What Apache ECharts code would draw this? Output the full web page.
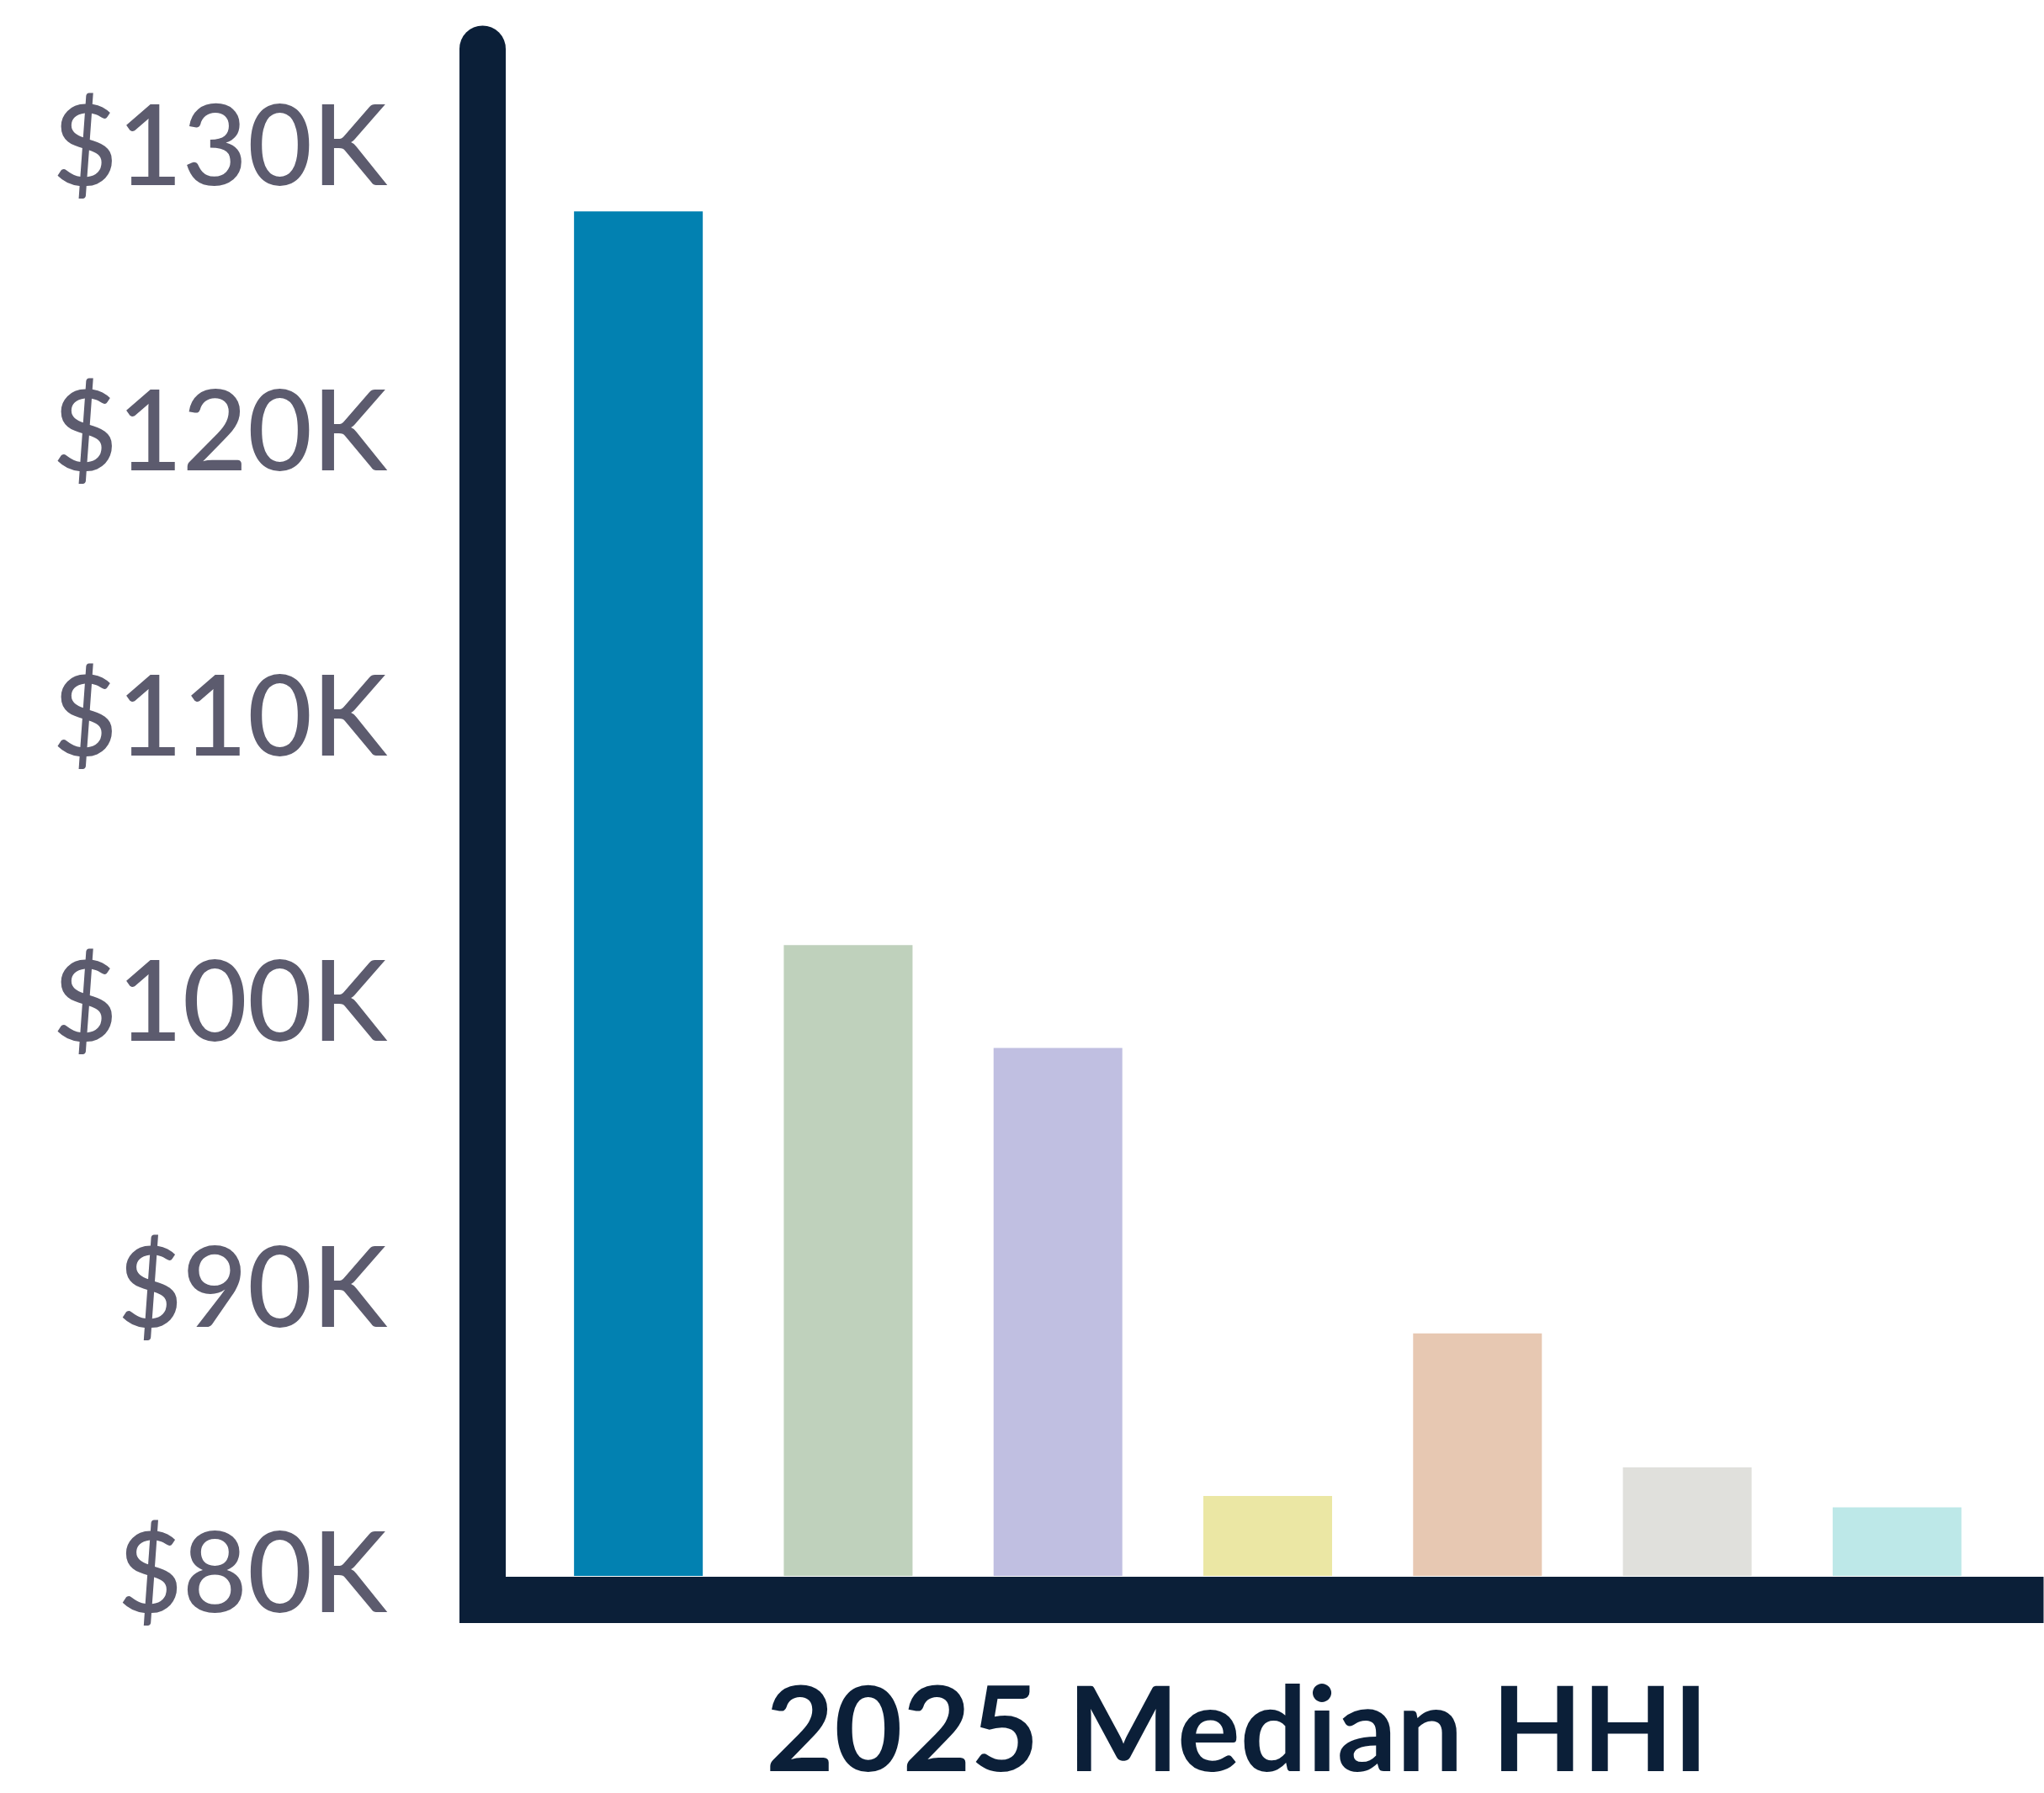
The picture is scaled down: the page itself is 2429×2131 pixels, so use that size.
<!DOCTYPE html>
<html>
<head>
<meta charset="utf-8">
<script src="https://cdn.jsdelivr.net/npm/echarts@6/dist/echarts.min.js"></script>
<style>
  html, body { margin: 0; padding: 0; background: #ffffff; }
  #bar-chart { width: 2429px; height: 2131px; }
</style>
</head>
<body>
<div id="bar-chart"></div>
<script>
// data (values in $K)
const categories = ['Bar 1', 'Bar 2', 'Bar 3', 'Bar 4', 'Bar 5', 'Bar 6', 'Bar 7'];
const medianHHI = [127.8, 102.1, 98.5, 82.8, 88.5, 83.8, 82.4];
const yTicks = [80, 90, 100, 110, 120, 130];
const barColors = ['#0281b1', '#bfd1bc', '#c0bfe1', '#ebe7a4', '#e7c8b2', '#e0e0dc', '#bde8e8'];

const axisColor = '#0b1f38';

const chart = echarts.init(document.getElementById('bar-chart'));

const option = {
  backgroundColor: '#ffffff',
  animation: false,
  title: {
    text: '2025 Median HHI',
    left: 1465,
    top: 1985,
    textAlign: 'center',
    textStyle: {
      fontFamily: 'Lato',
      fontWeight: 'bold',
      fontSize: 140,
      color: axisColor
    }
  },
  grid: [
    // bars
    { left: 634, right: 50, top: 58, bottom: 258 },
    // axis lines
    { left: 573.5, right: 28, top: 58, bottom: 230 }
  ],
  xAxis: [
    {
      type: 'category',
      gridIndex: 0,
      data: categories,
      axisLine: { show: false },
      axisTick: { show: false },
      axisLabel: { show: false }
    },
    {
      type: 'value',
      gridIndex: 1,
      min: 0,
      max: 1,
      axisLine: { show: true, lineStyle: { color: axisColor, width: 55, cap: 'square' } },
      axisTick: { show: false },
      axisLabel: { show: false },
      splitLine: { show: false }
    }
  ],
  yAxis: [
    {
      type: 'value',
      gridIndex: 0,
      min: 80,
      max: 133.5,
      interval: 10,
      axisLine: { show: false },
      axisTick: { show: false },
      splitLine: { show: false },
      axisLabel: {
        showMaxLabel: false,
        margin: 174,
        padding: [0, 0, 16, 0],
        fontFamily: 'Lato',
        fontWeight: 500,
        fontSize: 133,
        color: '#5c5b6e',
        formatter: v => (yTicks.includes(v) ? '$' + v + 'K' : '')
      }
    },
    {
      type: 'value',
      gridIndex: 1,
      min: 0,
      max: 1,
      axisLine: { show: true, lineStyle: { color: axisColor, width: 55, cap: 'round' } },
      axisTick: { show: false },
      axisLabel: { show: false },
      splitLine: { show: false }
    }
  ],
  series: [
    {
      name: 'Median HHI',
      type: 'bar',
      xAxisIndex: 0,
      yAxisIndex: 0,
      barWidth: 153,
      data: medianHHI.map((v, i) => ({ value: v, itemStyle: { color: barColors[i] } }))
    }
  ]
};

chart.setOption(option);
</script>
</body>
</html>
